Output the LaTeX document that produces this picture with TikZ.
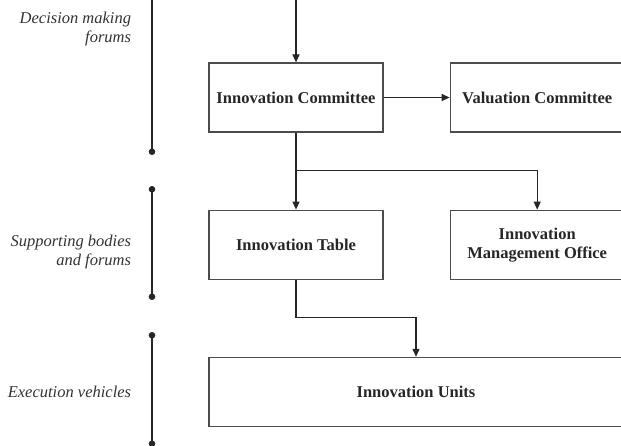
\documentclass[tikz,border=0pt]{standalone}
\usepackage{fontspec}
\setmainfont{Liberation Serif}
\usetikzlibrary{positioning,arrows.meta}

\begin{document}
\begin{tikzpicture}[x=1pt, y=1pt, node distance=77pt and 66pt,
    font=\fontsize{16.5}{19}\selectfont,
    unit/.style={draw=black!70, line width=1.2pt, minimum width=174pt,
      minimum height=69pt, align=center, font=\fontsize{16.5}{19}\selectfont\bfseries},
    level/.style={anchor=east, align=right, font=\fontsize{16.5}{19}\selectfont\itshape, text=black!80},
    bracket/.style={line width=1.3pt, black!85},
    every path/.style={line width=1.2pt, black!85},
    >={Triangle[length=8pt,width=7pt]}]
  \useasboundingbox (0,0) rectangle (621,-446);
  % boxes
  \node[unit] (ic) at (296,-97.5) {Innovation Committee};
  \node[unit] (vc) [right=of ic] {Valuation Committee};
  \node[unit] (it) [below=of ic] {Innovation Table};
  \node[unit] (imo) [right=of it] {Innovation\\Management Office};
  \node[unit, minimum width=414pt] (iu)
    [below=77pt of it.south west, anchor=north west] {Innovation Units};
  % levels on the left
  \node[level] (dm) at (135,-29) {Decision making\\forums};
  \node[level] (sb) at (135,-252.5) {Supporting bodies\\and forums};
  \node[level] (ev) at (135,-392) {Execution vehicles};
  \coordinate (dmtop) at (152,0);
  \coordinate (dmbot) at (152,-155);
  \coordinate (sbtop) at (152,-186);
  \coordinate (sbbot) at (152,-300);
  \coordinate (evtop) at (152,-332);
  \coordinate (evbot) at (152,-447);
  \draw[bracket, -{Circle[length=6.5pt]}] (dmtop) -- (dmbot);
  \draw[bracket, {Circle[length=6.5pt]}-{Circle[length=6.5pt]}] (sbtop) -- (sbbot);
  \draw[bracket, {Circle[length=6.5pt]}-{Circle[length=6.5pt]}] (evtop) -- (evbot);
  % links
  \coordinate (top) at (ic.north |- 0,0);
  \draw[->] (top) -- (ic);
  \draw[->] (ic) -- (vc);
  \draw[->] (ic) -- (it);
  \draw[->] (ic.south) ++(0,-38) -| (imo);
  \draw[->] (it.south) -- ++(0,-38) -| (iu);
\end{tikzpicture}
\end{document}
